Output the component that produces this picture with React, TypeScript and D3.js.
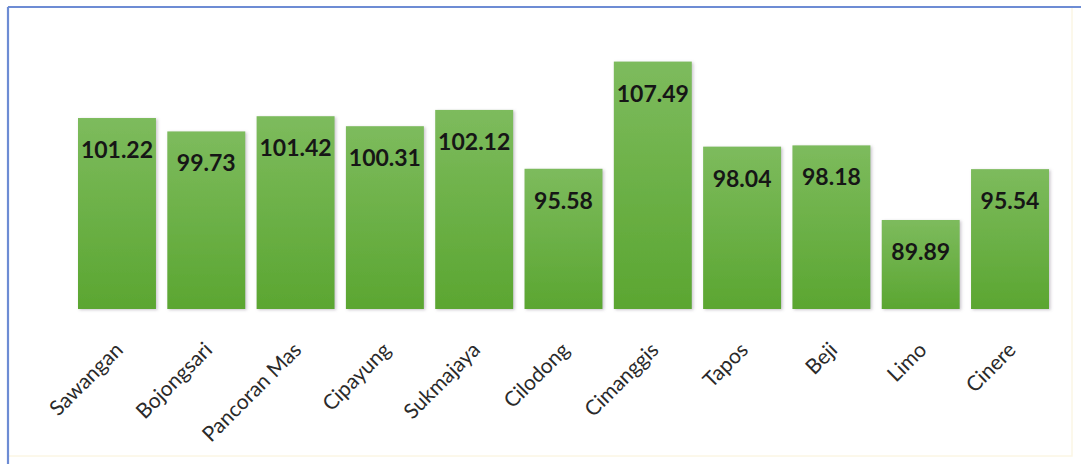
import React from "react";
import * as d3 from "d3";

const categories = ["Sawangan", "Bojongsari", "Pancoran Mas", "Cipayung", "Sukmajaya", "Cilodong", "Cimanggis", "Tapos", "Beji", "Limo", "Cinere"];
const values = [101.22, 99.73, 101.42, 100.31, 102.12, 95.58, 107.49, 98.04, 98.18, 89.89, 95.54];
const valueLabels = ["101.22", "99.73", "101.42", "100.31", "102.12", "95.58", "107.49", "98.04", "98.18", "89.89", "95.54"];

const W = 1081;
const H = 464;

export default function App() {
  const x = d3.scaleBand<string>().domain(categories).range([78, 1049]).paddingInner(0.127).paddingOuter(0);
  const y = d3.scaleLinear().domain([80, 110]).range([309, 39]);
  const base = y(80);
  return (
    <svg width={W} height={H} style={{ position: "absolute", left: 0, top: 0, background: "#fff" }}>
      <defs>
        <linearGradient id="barGrad" x1="0" y1="0" x2="0" y2="1">
          <stop offset="0%" stopColor="#7dbb5d" />
          <stop offset="100%" stopColor="#5ba631" />
        </linearGradient>
        <filter id="shadow" x="-10%" y="-10%" width="130%" height="130%">
          <feDropShadow dx="1.5" dy="1" stdDeviation="1.5" floodColor="#8a7f8f" floodOpacity="0.45" />
        </filter>
      </defs>
      <rect x={8} y={7} width={1064} height={449} fill="none" stroke="#fbf6e4" strokeWidth={1.5} />
      <line x1={8} y1={7} x2={W} y2={7} stroke="#6d8cd4" strokeWidth={2.2} />
      <line x1={8} y1={7} x2={8} y2={H} stroke="#6d8cd4" strokeWidth={2.2} />
      {categories.map((c, i) => {
        const bx = x(c)!;
        const bw = x.bandwidth();
        const top = y(values[i]);
        return (
          <g key={c}>
            <rect x={bx} y={top} width={bw} height={base - top} fill="url(#barGrad)" filter="url(#shadow)" />
            <text
              x={bx + bw / 2}
              y={top + 40}
              textAnchor="middle"
              fontFamily="Lato, 'Open Sans', sans-serif"
              fontWeight={700}
              fontSize={23}
              fill="#161616"
            >
              {valueLabels[i]}
            </text>
            <text
              transform={`translate(${bx + bw / 2 + 2},${base + 37}) rotate(-45)`}
              textAnchor="end"
              dy="0.35em"
              fontFamily="Lato, 'Open Sans', sans-serif"
              fontSize={21}
              fill="#2a2a2a"
            >
              {c}
            </text>
          </g>
        );
      })}
    </svg>
  );
}
